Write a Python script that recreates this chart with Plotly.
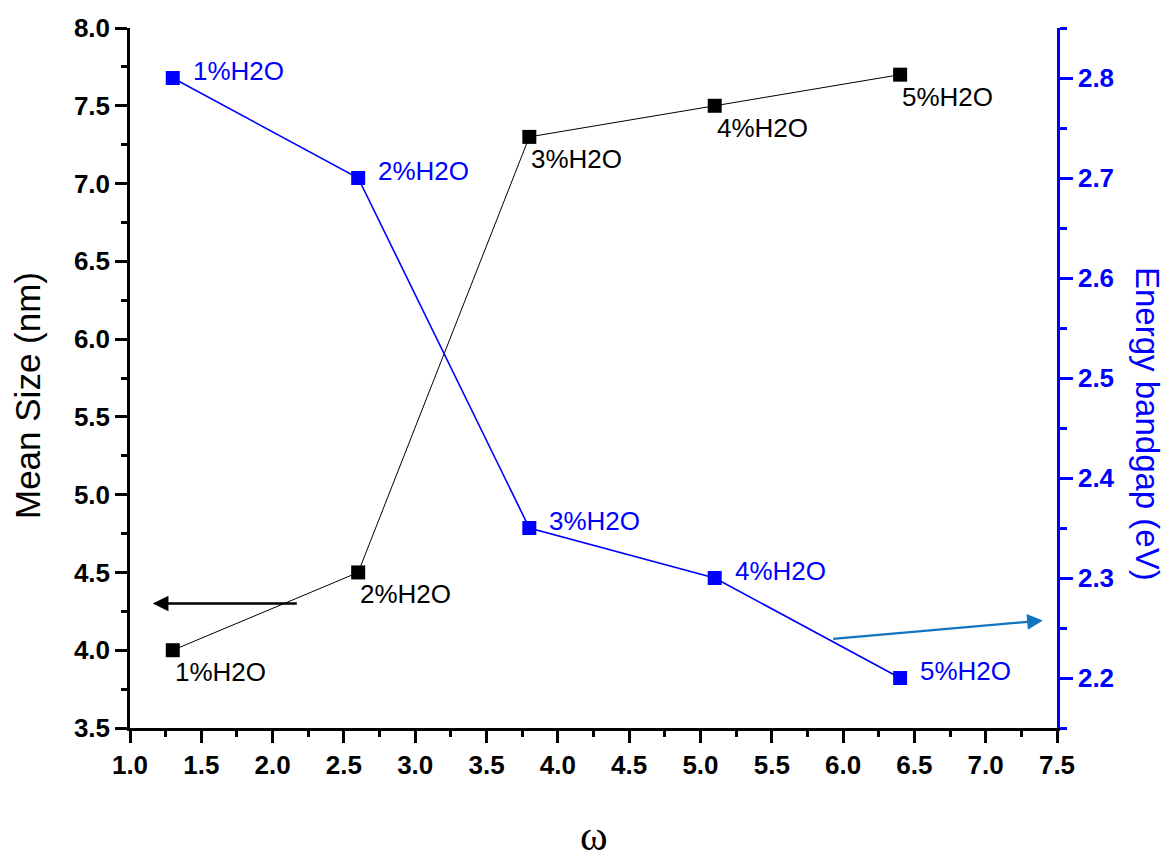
import plotly.graph_objects as go

# Data
omega = [1.3, 2.6, 3.8, 5.1, 6.4]
mean_size = [4.0, 4.5, 7.3, 7.5, 7.7]
bandgap = [2.8, 2.7, 2.35, 2.3, 2.2]
labels = ["1%H2O", "2%H2O", "3%H2O", "4%H2O", "5%H2O"]

# arrow annotation endpoints (data coords): tail -> tip
black_arrow_tail = (2.18, 4.30)
black_arrow_tip = (1.16, 4.30)
blue_arrow_tail = (5.92, 2.239)
blue_arrow_tip = (7.40, 2.2575)

BLUE = "#0000FF"
ARROWBLUE = "#1273BF"
FONT = "Liberation Sans, Arial, sans-serif"

fig = go.Figure()

fig.add_trace(go.Scatter(
    x=omega, y=mean_size, mode="lines+markers",
    line=dict(color="black", width=1),
    marker=dict(symbol="square", size=14, color="black"),
    xaxis="x", yaxis="y", showlegend=False, cliponaxis=False))

fig.add_trace(go.Scatter(
    x=omega, y=bandgap, mode="lines+markers",
    line=dict(color=BLUE, width=1.6),
    marker=dict(symbol="square", size=14, color=BLUE),
    xaxis="x", yaxis="y2", showlegend=False, cliponaxis=False))

annotations = []
for xv, yv, t in zip(omega, mean_size, labels):
    annotations.append(dict(x=xv, y=yv, xref="x", yref="y", text=t, showarrow=False,
                            xanchor="left", yanchor="middle", xshift=0, yshift=-22,
                            font=dict(family=FONT, size=26, color="black")))
for xv, yv, t in zip(omega, bandgap, labels):
    annotations.append(dict(x=xv, y=yv, xref="x", yref="y2", text=t, showarrow=False,
                            xanchor="left", yanchor="middle", xshift=18, yshift=7,
                            font=dict(family=FONT, size=26, color=BLUE)))

annotations.append(dict(x=black_arrow_tip[0], y=black_arrow_tip[1], xref="x", yref="y",
                        ax=black_arrow_tail[0], ay=black_arrow_tail[1], axref="x", ayref="y",
                        showarrow=True, arrowhead=2, arrowsize=1.3, arrowwidth=2.4,
                        arrowcolor="black", text=""))
annotations.append(dict(x=blue_arrow_tip[0], y=blue_arrow_tip[1], xref="x", yref="y2",
                        ax=blue_arrow_tail[0], ay=blue_arrow_tail[1], axref="x", ayref="y2",
                        showarrow=True, arrowhead=2, arrowsize=1.3, arrowwidth=2.4,
                        arrowcolor=ARROWBLUE, text=""))

# axis titles
annotations.append(dict(x=0, y=0.5, xref="paper", yref="paper", xshift=-103, yshift=-18,
                        text="Mean Size (nm)", textangle=-90, showarrow=False,
                        xanchor="center", yanchor="middle",
                        font=dict(family=FONT, size=35, color="black")))
annotations.append(dict(x=1, y=0.5, xref="paper", yref="paper", xshift=91, yshift=-46,
                        text="Energy bandgap (eV)", textangle=90, showarrow=False,
                        xanchor="center", yanchor="middle",
                        font=dict(family=FONT, size=33, color=BLUE)))
annotations.append(dict(x=0.5, y=0, xref="paper", yref="paper", yshift=-108,
                        text="ω", showarrow=False, xanchor="center", yanchor="middle",
                        font=dict(family="Liberation Serif, Times New Roman, serif", size=42, color="black")))

tickfont = dict(family=FONT, size=26, color="black", weight="bold")

fig.update_layout(
    width=1170, height=861,
    margin=dict(l=130, r=113, t=28, b=133),
    paper_bgcolor="white", plot_bgcolor="white",
    xaxis=dict(range=[1.0, 7.5], dtick=0.5, tick0=1.0, tickformat=".1f",
               showgrid=False, zeroline=False, showline=True, linecolor="black", linewidth=2.5,
               ticks="outside", ticklen=12, tickwidth=2.5, tickcolor="black",
               minor=dict(dtick=0.25, ticks="outside", ticklen=6, tickwidth=2.5, tickcolor="black", showgrid=False),
               tickfont=tickfont, anchor="y"),
    xaxis2=dict(range=[1.0, 7.5], dtick=0.5, tick0=1.0, overlaying="x", side="top", anchor="y",
                showgrid=False, zeroline=False, showline=True, linecolor="black", linewidth=2.5,
                ticks="inside", ticklen=13, tickwidth=2.5, tickcolor="black",
                minor=dict(dtick=0.25, ticks="inside", ticklen=6, tickwidth=2.5, tickcolor="black", showgrid=False),
                showticklabels=False),
    yaxis=dict(range=[3.5, 8.0], dtick=0.5, tick0=3.5, tickformat=".1f",
               showgrid=False, zeroline=False, showline=True, linecolor="black", linewidth=2.5,
               ticks="outside", ticklen=12, tickwidth=2.5, tickcolor="black",
               minor=dict(dtick=0.25, ticks="outside", ticklen=6, tickwidth=2.5, tickcolor="black", showgrid=False),
               tickfont=tickfont, anchor="x"),
    yaxis2=dict(range=[2.15, 2.85], dtick=0.1, tick0=2.2, tickformat=".1f",
                overlaying="y", side="right", anchor="x",
                showgrid=False, zeroline=False, showline=True, linecolor=BLUE, linewidth=2.5,
                ticks="outside", ticklen=13, tickwidth=2.5, tickcolor=BLUE,
                minor=dict(dtick=0.05, ticks="outside", ticklen=7, tickwidth=2.5, tickcolor=BLUE, showgrid=False),
                tickfont=dict(family=FONT, size=26, color=BLUE, weight="bold")),
    annotations=annotations,
)

fig.write_html("out.html")
